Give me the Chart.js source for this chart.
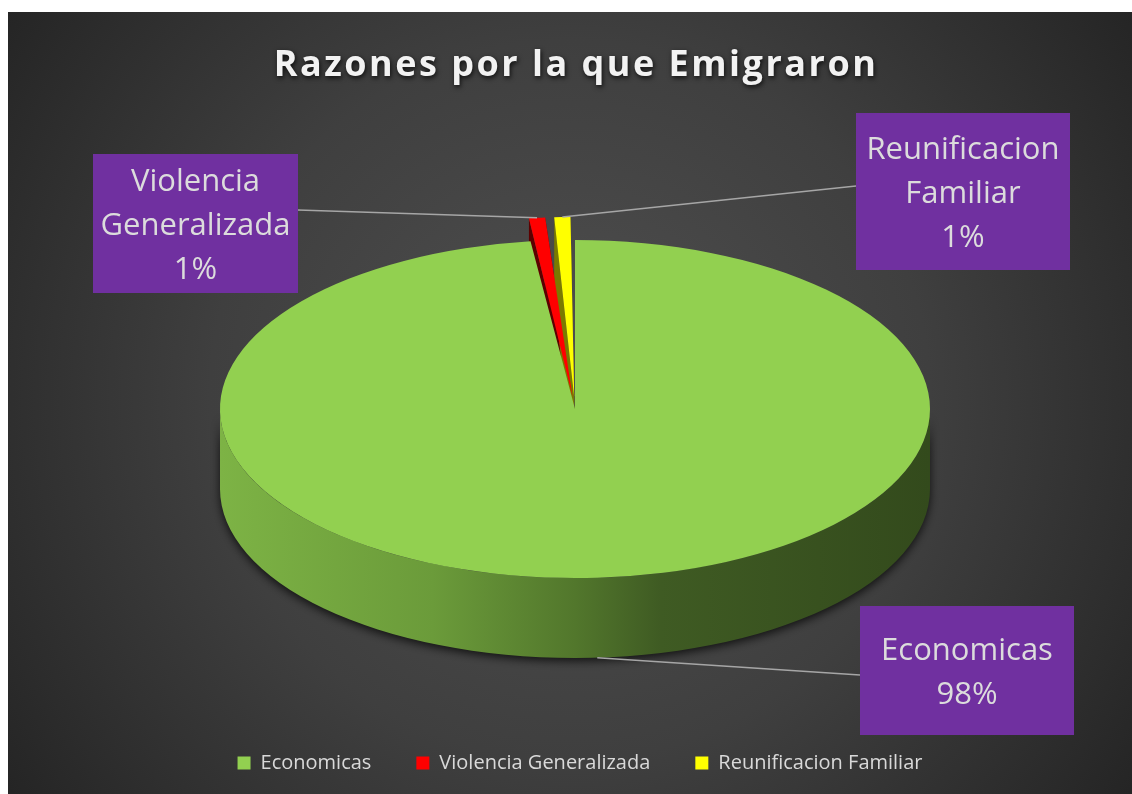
<!DOCTYPE html>
<html>
<head>
<meta charset="utf-8">
<script src="https://cdn.jsdelivr.net/npm/chart.js@4.4.0/dist/chart.umd.min.js"></script>
<style>
  html, body { margin: 0; padding: 0; background: #fff; }
</style>
</head>
<body>
<canvas id="Razones_Chart" width="1132" height="794"></canvas>
<script>
// datos
const titulo = 'Razones por la que Emigraron';
const categorias = ['Economicas', 'Violencia Generalizada', 'Reunificacion Familiar'];
const valores = [98, 1, 1];
const colores = ['#92d050', '#ff0000', '#ffff00'];
const coloresCara = ['#3b5420', '#5c0000', '#7a7a00'];
const desplazamiento = [0, 100, 100];

// posicion del pastel y de las etiquetas
const CX = 575, CY = 409, ESCALA_Y = 0.476, PROF = 80;
const cajas = [
  { x: 860, y: 606, w: 214, h: 129, lado: 'izq', ly: 675 },
  { x: 93, y: 154, w: 205, h: 139, lado: 'der', ly: 210 },
  { x: 856, y: 113, w: 214, h: 157, lado: 'izq', ly: 186 }
];

function geo(arc, i){
  const off = (desplazamiento[i] || 0) / 4;
  const circ = arc.endAngle - arc.startAngle;
  const fix = 1 - Math.sin(Math.min(Math.PI, circ));
  const mid = (arc.startAngle + arc.endAngle) / 2;
  const r = arc.outerRadius + off * fix;
  const beta = Math.max(0.001, circ * r - off * fix / Math.PI) / r;
  const a = (circ - beta) / 2;
  return {
    x: arc.x + Math.cos(mid) * off,
    y: arc.y + Math.sin(mid) * off,
    r: r, a1: arc.startAngle + a, a2: arc.endAngle - a, mid: mid
  };
}

function aPantalla(arc, px, py){
  return [CX + (px - arc.x), CY + ESCALA_Y * (py - arc.y)];
}

const pastel3d = {
  id: 'pastel3d',
  beforeDraw(chart){
    const ctx = chart.ctx;
    ctx.save();
    ctx.fillStyle = '#fff';
    ctx.fillRect(0, 0, chart.width, chart.height);
    const g = ctx.createRadialGradient(570, 400, 0, 570, 400, 720);
    g.addColorStop(0, '#505050');
    g.addColorStop(0.5, '#3f3f3f');
    g.addColorStop(1, '#222222');
    ctx.fillStyle = g;
    ctx.fillRect(8, 12, chart.width - 8, chart.height - 12);
    ctx.restore();
  },
  beforeDatasetsDraw(chart){
    const ctx = chart.ctx;
    const arcs = chart.getDatasetMeta(0).data;
    const a0 = arcs[0];
    const D = PROF / ESCALA_Y;
    ctx.save();
    ctx.translate(CX, CY);
    ctx.scale(1, ESCALA_Y);
    ctx.translate(-a0.x, -a0.y);

    // costado frontal
    arcs.forEach((arc, i) => {
      const g = geo(arc, i);
      const ini = Math.max(g.a1, 0), fin = Math.min(g.a2, Math.PI);
      if (fin <= ini) return;
      const grad = ctx.createLinearGradient(g.x - g.r, 0, g.x + g.r, 0);
      if (i === 0) {
        grad.addColorStop(0, '#7db345');
        grad.addColorStop(0.3, '#6b9b3a');
        grad.addColorStop(0.5, '#52772c');
        grad.addColorStop(0.62, '#3f5b23');
        grad.addColorStop(1, '#334a1c');
      } else {
        grad.addColorStop(0, coloresCara[i]);
        grad.addColorStop(1, coloresCara[i]);
      }
      ctx.save();
      ctx.shadowColor = 'rgba(0,0,0,0.75)';
      ctx.shadowBlur = 10;
      ctx.shadowOffsetY = 3;
      ctx.beginPath();
      ctx.arc(g.x, g.y, g.r, ini, fin);
      ctx.arc(g.x, g.y + D, g.r, fin, ini, true);
      ctx.closePath();
      ctx.fillStyle = grad;
      ctx.fill();
      ctx.restore();
    });

    // caras radiales
    arcs.forEach((arc, i) => {
      const g = geo(arc, i);
      ctx.fillStyle = coloresCara[i];
      [g.a1, g.a2].forEach(a => {
        const ex = g.x + g.r * Math.cos(a), ey = g.y + g.r * Math.sin(a);
        ctx.beginPath();
        ctx.moveTo(g.x, g.y);
        ctx.lineTo(ex, ey);
        ctx.lineTo(ex, ey + D);
        ctx.lineTo(g.x, g.y + D);
        ctx.closePath();
        ctx.fill();
      });
    });
  },
  afterDatasetsDraw(chart){
    chart.ctx.restore();
  },
  afterDraw(chart){
    const ctx = chart.ctx;
    const arcs = chart.getDatasetMeta(0).data;
    const total = valores.reduce((a, b) => a + b, 0);

    // titulo
    ctx.save();
    ctx.font = 'bold 36px "Open Sans"';
    ctx.letterSpacing = '2.5px';
    ctx.textAlign = 'center';
    ctx.textBaseline = 'alphabetic';
    ctx.shadowColor = 'rgba(0,0,0,0.8)';
    ctx.shadowBlur = 5;
    ctx.shadowOffsetX = 1;
    ctx.shadowOffsetY = 2;
    ctx.fillStyle = '#f2f2f2';
    ctx.fillText(titulo, 576, 76);
    ctx.restore();

    // lineas guia
    ctx.save();
    ctx.strokeStyle = '#a6a6a6';
    ctx.lineWidth = 1.5;
    arcs.forEach((arc, i) => {
      const g = geo(arc, i);
      const p = aPantalla(arc, g.x + g.r * Math.cos(g.mid), g.y + g.r * Math.sin(g.mid));
      if (i === 0) p[1] += PROF;
      const c = cajas[i];
      const bx = c.lado === 'izq' ? c.x : c.x + c.w;
      ctx.beginPath();
      ctx.moveTo(p[0], p[1]);
      ctx.lineTo(bx, c.ly);
      ctx.stroke();
    });
    ctx.restore();

    // etiquetas
    ctx.save();
    categorias.forEach((cat, i) => {
      const c = cajas[i];
      ctx.fillStyle = '#7030a0';
      ctx.fillRect(c.x, c.y, c.w, c.h);
      const lineas = cat.split(' ');
      lineas.push(Math.round(valores[i] / total * 100) + '%');
      ctx.font = '31px "Open Sans"';
      ctx.fillStyle = '#dcdcdc';
      ctx.textAlign = 'center';
      ctx.textBaseline = 'middle';
      const lh = 44;
      const y0 = c.y + c.h / 2 + 3 - (lineas.length - 1) * lh / 2;
      lineas.forEach((t, k) => ctx.fillText(t, c.x + c.w / 2, y0 + k * lh));
    });
    ctx.restore();
  }
};

new Chart(document.getElementById('Razones_Chart'), {
  type: 'pie',
  data: {
    labels: categorias,
    datasets: [{
      data: valores,
      backgroundColor: colores,
      borderWidth: 0,
      offset: desplazamiento,
      hoverOffset: 0,
      radius: 355,
      clip: false
    }]
  },
  options: {
    responsive: false,
    animation: false,
    layout: { padding: { bottom: 11, left: 28 } },
    plugins: {
      title: { display: false },
      tooltip: { enabled: false },
      legend: {
        position: 'bottom',
        labels: {
          color: '#d9d9d9',
          boxWidth: 13,
          boxHeight: 13,
          padding: 45,
          font: { family: 'Open Sans', size: 20 }
        }
      }
    }
  },
  plugins: [pastel3d]
});
</script>
</body>
</html>
